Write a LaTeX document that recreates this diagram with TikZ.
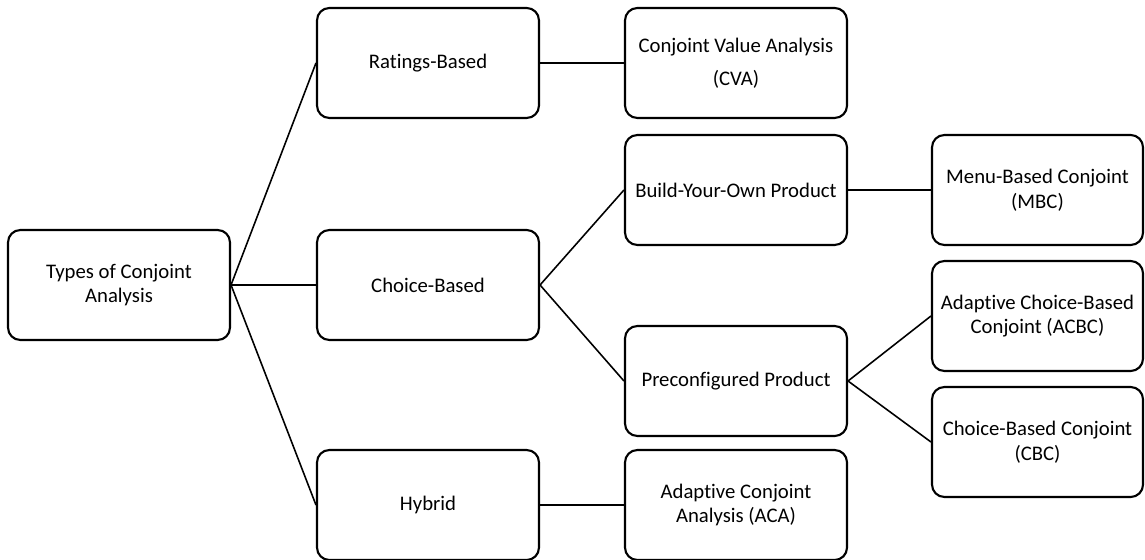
\documentclass[tikz,border=0pt]{standalone}
\usepackage{fontspec}
\setmainfont{Carlito}[Ligatures=NoCommon]

\tikzset{box/.style={rectangle, rounded corners=7pt, draw, line width=1.2pt, minimum width=4.44cm, minimum height=2.2cm, align=center, font=\fontsize{11.8}{14}\selectfont, inner sep=2pt}}
\tikzset{link/.style={line width=0.9pt}}

\begin{document}
\begin{tikzpicture}[x=0.02cm, y=-0.02cm]
			\useasboundingbox (0,0) rectangle (1145,560);
			% Root node
			\node[box] (T) at (119,285) {Types of Conjoint\\Analysis};
			
			% Second column
			\node[box] (R) at (428,63) {Ratings-Based};
			\node[box] (C) at (428,285) {Choice-Based};
			\node[box] (H) at (428,505) {Hybrid};
			
			% Third column
			\node[box] (CVA) at (736,63) {Conjoint Value Analysis\\[5pt](CVA)};
			\node[box] (BYO) at (736,190) {Build-Your-Own Product};
			\node[box] (PC) at (736,381) {Preconfigured Product};
			\node[box] (ACA) at (736,505) {Adaptive Conjoint\\Analysis (ACA)};
			
			% Fourth column
			\node[box, minimum width=4.22cm] (MBC) at (1037.5,190) {Menu-Based Conjoint\\(MBC)};
			\node[box, minimum width=4.22cm] (ACBC) at (1037.5,316) {Adaptive Choice-Based\\Conjoint (ACBC)};
			\node[box, minimum width=4.22cm] (CBC) at (1037.5,442) {Choice-Based Conjoint\\(CBC)};
			
			% Edges from root
			\draw[link] (T.east) -- (R.west);
			\draw[link] (T.east) -- (C.west);
			\draw[link] (T.east) -- (H.west);
			
			% Edges from second column
			\draw[link] (R.east) -- (CVA.west);
			\draw[link] (C.east) -- (BYO.west);
			\draw[link] (C.east) -- (PC.west);
			\draw[link] (H.east) -- (ACA.west);
			
			% Edges from third column
			\draw[link] (BYO.east) -- (MBC.west);
			\draw[link] (PC.east) -- (ACBC.west);
			\draw[link] (PC.east) -- (CBC.west);
		\end{tikzpicture}
\end{document}
